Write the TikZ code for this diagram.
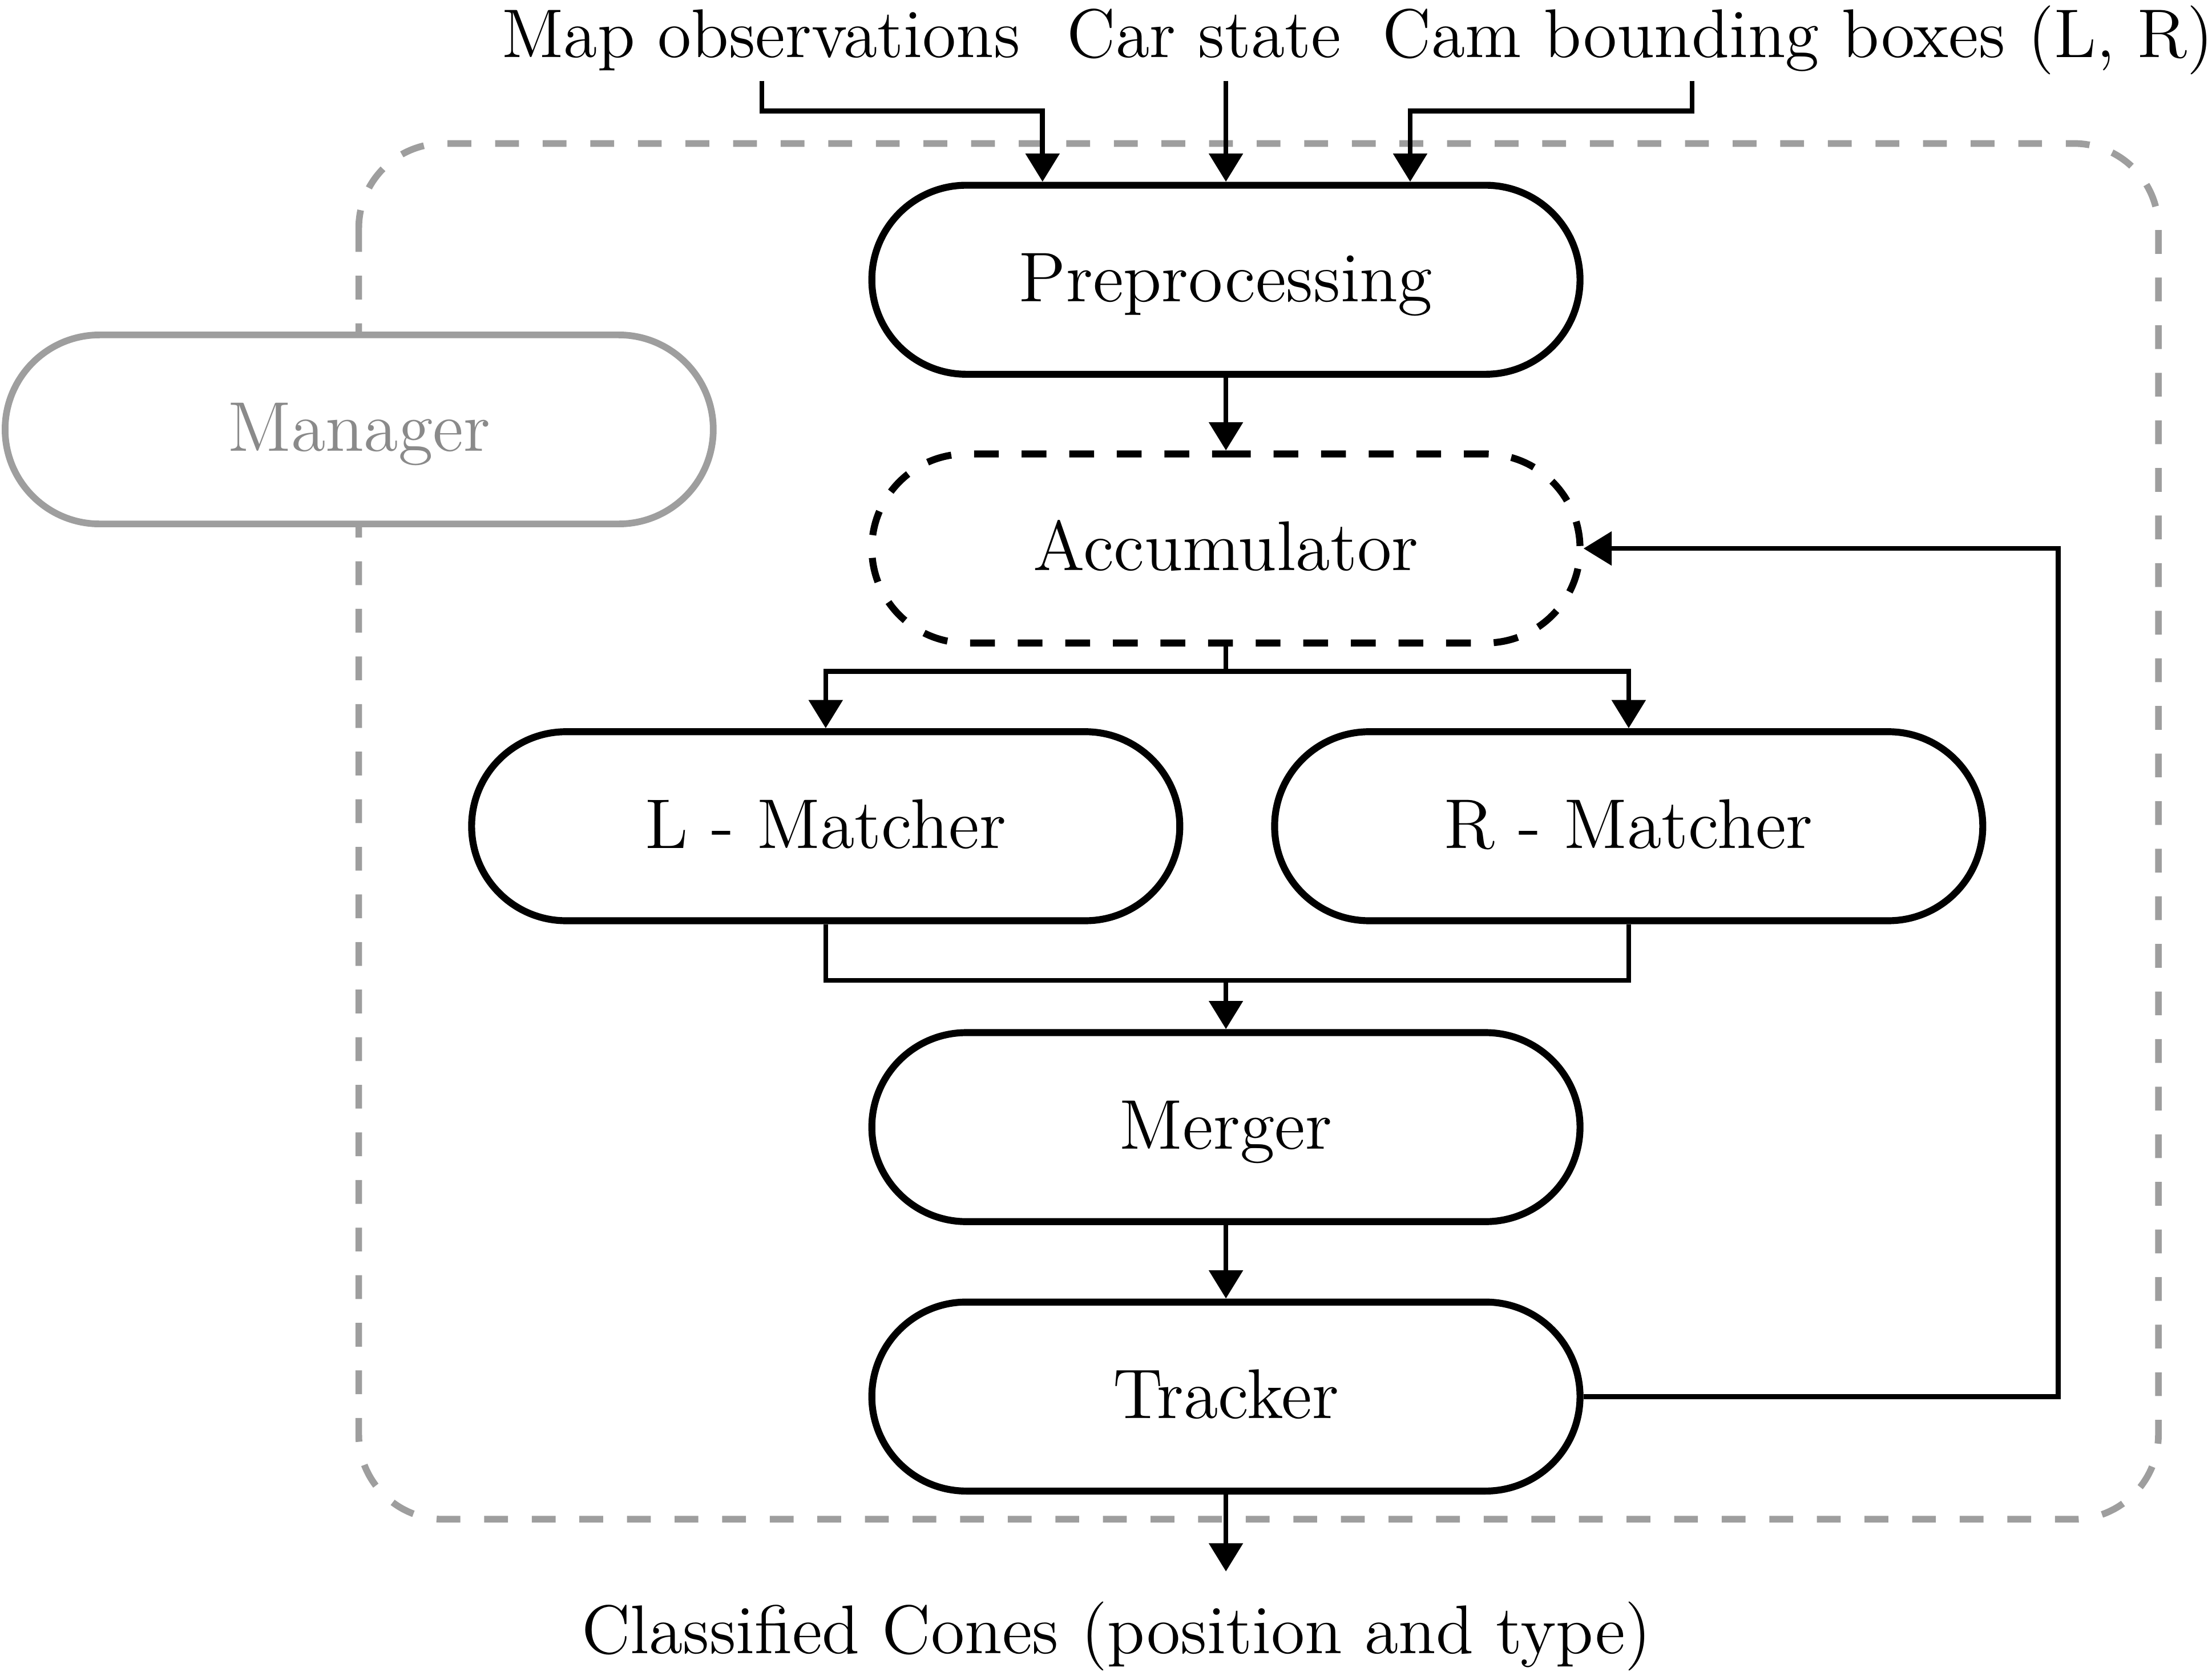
\documentclass[tikz,border=0pt]{standalone}
\usetikzlibrary{shapes.misc,arrows.meta}
\definecolor{boxgray}{HTML}{9E9E9E}
\definecolor{txtgray}{HTML}{8A8A8A}
\tikzset{
  block/.style={rounded rectangle, draw=black, line width=1.4pt, fill=white,
    minimum width=5.02cm, minimum height=1.34cm, inner sep=0pt,
    text height=9.8pt, text depth=1pt,
    font=\fontsize{14.2}{16}\selectfont},
  dashblock/.style={block, dash pattern=on 5pt off 4.6pt},
  mgrblock/.style={block, draw=boxgray, text=txtgray, line width=1.35pt},
  lbl/.style={font=\fontsize{13.9}{16}\selectfont, inner sep=0pt, anchor=base},
  conn/.style={line width=1pt},
  arr/.style={conn, -{Triangle[length=0.2cm,width=0.235cm]}},
  container/.style={draw=boxgray, line width=1.35pt, dash pattern=on 4.8pt off 4.8pt, rounded corners=0.6cm}
}
\begin{document}
\begin{tikzpicture}
\useasboundingbox (0,0) rectangle (15.68,-11.88);
% container
\draw[container] (2.543,-1.017) rectangle (15.30,-10.77);
% labels
\node[lbl] (mo) at (5.395,-0.405) {Map observations};
\node[lbl] (car) at (8.535,-0.405) {Car state};
\node[lbl] (cam) at (12.745,-0.405) {Cam bounding boxes (L, R)};
\node[lbl] (out) at (7.915,-11.72) {Classified Cones (position and type)};
% nodes
\node[block] (pre) at (8.69,-1.983) {Preprocessing};
\node[dashblock] (acc) at (8.69,-3.888) {Accumulator};
\node[block] (lm) at (5.853,-5.857) {L - Matcher};
\node[block] (rm) at (11.545,-5.857) {R - Matcher};
\node[block] (mer) at (8.69,-7.99) {Merger};
\node[block] (trk) at (8.69,-9.90) {Tracker};
\node[mgrblock] (man) at (2.546,-3.044) {Manager};
% coordinates
\coordinate (mos) at (5.40,-0.573);
\coordinate (cars) at (8.69,-0.573);
\coordinate (cams) at (11.995,-0.573);
\coordinate (s1) at (8.69,-4.76);
\coordinate (j2) at (8.69,-6.95);
\coordinate (fb) at (14.59,-3.888);
\coordinate (outtip) at (8.69,-11.14);
% connectors
\draw[arr] (mos) -- ++(0,-0.213) -| ([xshift=-1.30cm]pre.north);
\draw[arr] (cars) -- (pre.north);
\draw[arr] (cams) -- ++(0,-0.213) -| ([xshift=1.306cm]pre.north);
\draw[arr] (pre.south) -- (acc.north);
\draw[conn] (acc.south) -- (s1);
\draw[arr] (s1) -| (lm.north);
\draw[arr] (s1) -| (rm.north);
\draw[conn] (lm.south) |- (j2) -| (rm.south);
\draw[arr] (j2) -- (mer.north);
\draw[arr] (mer.south) -- (trk.north);
\draw[arr] (trk.east) -| (fb) -- (acc.east);
\draw[arr] (trk.south) -- (outtip);
\end{tikzpicture}
\end{document}
